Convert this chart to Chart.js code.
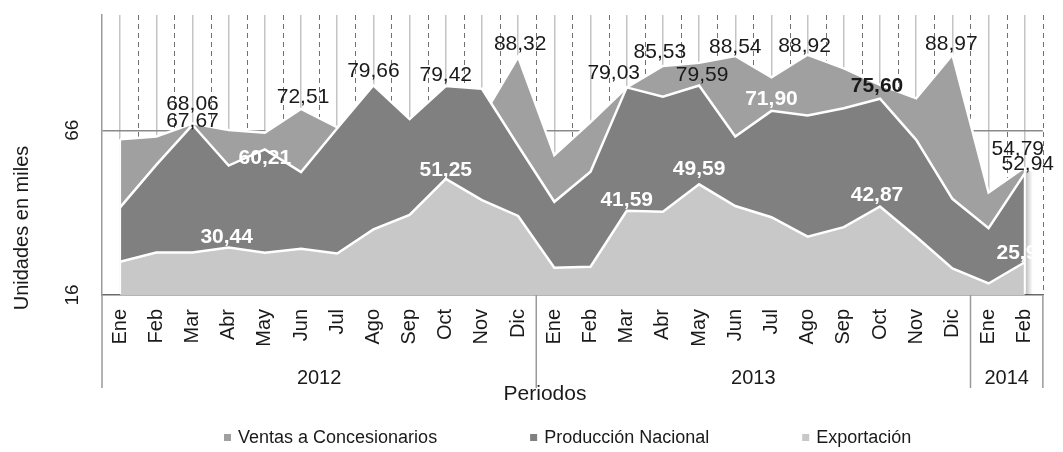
<!DOCTYPE html>
<html>
<head>
<meta charset="utf-8">
<script src="https://cdn.jsdelivr.net/npm/chart.js@4"></script>
<style>
  html, body { margin: 0; padding: 0; background: #fff; }
  #wrap { width: 1063px; height: 452px; }
</style>
</head>
<body>
<div id="wrap"><canvas id="chart" width="1063" height="452"></canvas></div>
<script>
// x axis: months, grouped by year underneath
const months = ["Ene","Feb","Mar","Abr","May","Jun","Jul","Ago","Sep","Oct","Nov","Dic",
                "Ene","Feb","Mar","Abr","May","Jun","Jul","Ago","Sep","Oct","Nov","Dic",
                "Ene","Feb"];
const years = ["2012", "2013", "2014"];
const yearCounts = [12, 12, 2];

// series, in thousands of units
const ventas = [63.3, 64.1, 68.06, 66.1, 65.3, 72.51, 66.9, 76.5, 67.5, 76.0, 69.8, 88.32,
                58.5, 68.5, 79.0, 85.53, 86.5, 88.54, 82.1, 88.92, 84.8, 79.8, 75.7, 88.97,
                47.1, 54.79];
const produccion = [42.6, 55.5, 67.67, 55.3, 60.21, 53.3, 66.6, 79.66, 69.4, 79.42, 78.6, 61.3,
                    44.3, 53.4, 79.03, 76.2, 79.59, 64.1, 71.90, 70.5, 72.7, 75.60, 63.1, 45.2,
                    36.3, 52.94];
const exportacion = [26.1, 28.9, 28.9, 30.44, 28.8, 30.0, 28.6, 35.9, 40.3, 51.25, 44.8, 40.0,
                     24.3, 24.6, 41.59, 41.3, 49.59, 43.0, 39.6, 33.7, 36.6, 42.87, 33.7, 24.1,
                     19.5, 25.93];

const seriesNames = ["Ventas a Concesionarios", "Producción Nacional", "Exportación"];
const yTicks = [16, 66];

const FONT = "'Liberation Sans', Arial, Helvetica, sans-serif";
const ink = "#1a1a1a";
const fills = ["#a0a0a0", "#808080", "#c8c8c8"];

// which points get a value label, and how far (px) the label sits from its point
const labelSpecs = [
  [ {i: 2, dy: -19}, {i: 5, dx: 2, dy: -12}, {i: 11, dx: 2, dy: -12.5}, {i: 15, dx: -3, dy: -14},
    {i: 17, dy: -8.5}, {i: 19, dx: -3, dy: -9}, {i: 23, dx: -1, dy: -10.5}, {i: 25, dx: -7, dy: -18} ],
  [ {i: 2, dy: -4}, {i: 4, dy: 9, white: true, bold: true}, {i: 7, dy: -14}, {i: 9, dy: -11},
    {i: 14, dx: -13, dy: -14}, {i: 16, dx: 3, dy: -10}, {i: 18, dy: -12, white: true, bold: true},
    {i: 21, dx: -3, dy: -12, bold: true}, {i: 25, dx: 3, dy: -9.5} ],
  [ {i: 3, dx: -2, dy: -10}, {i: 9, dy: -9}, {i: 14, dy: -11}, {i: 16, dy: -15},
    {i: 21, dx: -3, dy: -11}, {i: 25, dx: -2, dy: -9, clip: 7} ]
];
const whiteSeries = [false, false, true];

const fmt = v => v.toFixed(2).replace(".", ",");

const extras = {
  id: "extras",
  beforeDatasetsDraw(chart) {
    // dashed lines on the category boundaries
    const { ctx, chartArea: a, scales: { x } } = chart;
    ctx.save();
    ctx.strokeStyle = "#707070";
    ctx.lineWidth = 1;
    ctx.setLineDash([5, 4]);
    for (let i = 0; i < months.length; i++) {
      const bx = i < months.length - 1
        ? (x.getPixelForValue(i) + x.getPixelForValue(i + 1)) / 2
        : a.right;
      const px = Math.round(bx) + 0.5;
      ctx.beginPath();
      ctx.moveTo(px, a.top);
      ctx.lineTo(px, a.bottom);
      ctx.stroke();
    }
    ctx.restore();
  },
  afterDatasetsDraw(chart) {
    const { ctx, chartArea: a, scales: { x, y } } = chart;
    const last = months.length - 1;

    // soft shadow right of the last column + white outline on both ends
    const xl = x.getPixelForValue(last);
    const topL = y.getPixelForValue(Math.max(ventas[last], produccion[last], exportacion[last]));
    const g = ctx.createLinearGradient(xl, 0, xl + 8, 0);
    g.addColorStop(0, "rgba(0,0,0,0.28)");
    g.addColorStop(1, "rgba(0,0,0,0)");
    ctx.save();
    ctx.fillStyle = g;
    ctx.fillRect(xl + 1, topL + 4, 8, a.bottom - topL - 4);
    ctx.strokeStyle = "#fff";
    ctx.lineWidth = 2;
    [0, last].forEach(i => {
      const px = x.getPixelForValue(i);
      const top = y.getPixelForValue(Math.max(ventas[i], produccion[i], exportacion[i]));
      ctx.beginPath();
      ctx.moveTo(px, top);
      ctx.lineTo(px, a.bottom - 1);
      ctx.stroke();
    });
    ctx.restore();

    // value labels
    labelSpecs.forEach((specs, d) => {
      const meta = chart.getDatasetMeta(d);
      const data = chart.data.datasets[d].data;
      specs.forEach(s => {
        const pt = meta.data[s.i];
        const white = s.white !== undefined ? s.white : whiteSeries[d];
        const bold = s.bold !== undefined ? s.bold : whiteSeries[d];
        ctx.save();
        if (s.clip) {
          ctx.beginPath();
          ctx.rect(0, 0, pt.x + s.clip, chart.height);
          ctx.clip();
        }
        ctx.font = (bold ? "bold " : "") + "21px " + FONT;
        ctx.fillStyle = white ? "#ffffff" : ink;
        ctx.textAlign = "center";
        ctx.textBaseline = "middle";
        ctx.fillText(fmt(data[s.i]), pt.x + (s.dx || 0), pt.y + (s.dy || 0));
        ctx.restore();
      });
    });
  },
  afterDraw(chart) {
    const { ctx, chartArea: a, scales: { x, y } } = chart;
    ctx.save();
    ctx.fillStyle = ink;
    ctx.textAlign = "center";
    ctx.textBaseline = "middle";

    // y tick labels, rotated
    ctx.font = "19px " + FONT;
    yTicks.forEach(v => {
      ctx.save();
      ctx.translate(a.left - 29.5, y.getPixelForValue(v));
      ctx.rotate(-Math.PI / 2);
      ctx.fillText(String(v), 0, 0);
      ctx.restore();
    });

    // y title
    ctx.font = "20px " + FONT;
    ctx.save();
    ctx.translate(22, 228);
    ctx.rotate(-Math.PI / 2);
    ctx.fillText("Unidades en miles", 0, 0);
    ctx.restore();

    // year row with its separators
    const rowBottom = 388;
    const edges = [a.left];
    let k = 0;
    yearCounts.forEach(n => {
      k += n;
      edges.push(k < months.length
        ? (x.getPixelForValue(k - 1) + x.getPixelForValue(k)) / 2
        : a.right);
    });
    ctx.strokeStyle = "#9a9a9a";
    ctx.lineWidth = 1.5;
    edges.forEach(ex => {
      ctx.beginPath();
      ctx.moveTo(ex, a.bottom);
      ctx.lineTo(ex, rowBottom);
      ctx.stroke();
    });
    ctx.font = "20px " + FONT;
    years.forEach((yr, j) => ctx.fillText(yr, (edges[j] + edges[j + 1]) / 2, 378));

    // x title
    ctx.font = "21px " + FONT;
    ctx.fillText("Periodos", 545, 394);

    // legend
    ctx.font = "18px " + FONT;
    ctx.textAlign = "left";
    let lx = 224;
    seriesNames.forEach((name, d) => {
      ctx.fillStyle = fills[d];
      ctx.fillRect(lx, 434, 7, 7);
      ctx.fillStyle = ink;
      ctx.fillText(name, lx + 14, 438);
      lx += 14 + ctx.measureText(name).width + 93;
    });
    ctx.restore();
  }
};

Chart.defaults.font.family = FONT;

new Chart(document.getElementById("chart"), {
  type: "line",
  data: {
    labels: months,
    datasets: [
      { label: seriesNames[0], data: ventas, backgroundColor: fills[0], order: 2 },
      { label: seriesNames[1], data: produccion, backgroundColor: fills[1], order: 1 },
      { label: seriesNames[2], data: exportacion, backgroundColor: fills[2], order: 0 }
    ].map(ds => Object.assign(ds, {
      fill: "start", borderColor: "#ffffff", borderWidth: 2.5, pointRadius: 0, tension: 0
    }))
  },
  options: {
    responsive: false,
    animation: false,
    devicePixelRatio: 1,
    layout: { padding: { top: 15, right: 12, left: 0, bottom: 0 } },
    plugins: { legend: { display: false }, tooltip: { enabled: false } },
    scales: {
      x: {
        offset: true,
        grid: { offset: false, color: "#c4c4c4", lineWidth: 1.5, drawTicks: false },
        border: { color: "#6a6a6a", width: 1.5 },
        ticks: {
          autoSkip: false, minRotation: 90, maxRotation: 90, padding: 14,
          color: ink, font: { size: 20 }
        },
        afterFit(s) { s.height = 157; }
      },
      y: {
        min: 16,
        max: 101,
        afterBuildTicks(s) { s.ticks = yTicks.map(v => ({ value: v })); },
        grid: {
          color: c => (c.tick && c.tick.value !== yTicks[0]) ? "#8a8a8a" : "rgba(0,0,0,0)",
          lineWidth: 1.5,
          drawTicks: false
        },
        border: { color: "#9a9a9a", width: 1.5 },
        ticks: { display: false },
        afterFit(s) { s.width = 102; }
      }
    }
  },
  plugins: [extras]
});
</script>
</body>
</html>
